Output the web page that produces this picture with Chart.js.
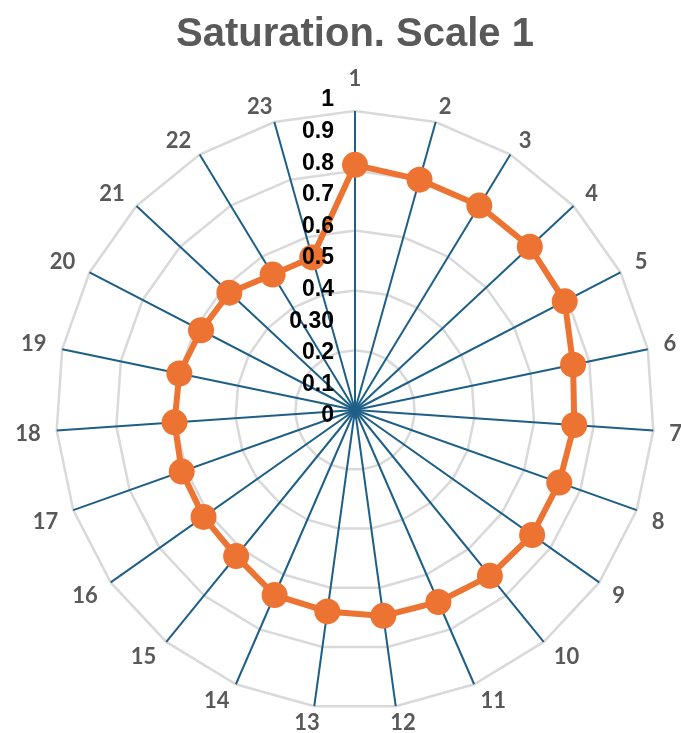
<!DOCTYPE html>
<html>
<head>
<meta charset="utf-8">
<script src="https://cdn.jsdelivr.net/npm/chart.js@4.4.1/dist/chart.umd.min.js"></script>
<style>
  html, body { margin: 0; padding: 0; background: #ffffff; overflow: hidden; }
  /* the lowest labels run off the bottom edge, so the canvas is taller than the window */
  #wrap { width: 681px; height: 755px; }
</style>
</head>
<body>
<div id="wrap"><canvas id="chart"></canvas></div>
<script>
// Categories around the radar (1..23)
const categories = ['1','2','3','4','5','6','7','8','9','10','11','12','13','14','15','16','17','18','19','20','21','22','23'];

// Saturation values for each category
const saturation = [0.82, 0.80, 0.80, 0.80, 0.79, 0.745, 0.735, 0.725, 0.725, 0.715, 0.70, 0.695,
                    0.68, 0.675, 0.63, 0.62, 0.615, 0.605, 0.60, 0.58, 0.575, 0.53, 0.53];

// Radial axis tick values and their printed labels
const tickValues = [0, 0.1, 0.2, 0.3, 0.4, 0.5, 0.6, 0.7, 0.8, 0.9, 1];
const tickLabels = ['0', '0.1', '0.2', '0.30', '0.4', '0.5', '0.6', '0.7', '0.8', '0.9', '1'];

// Category labels around the outer ring. Each label box is pushed off the end
// of its spoke: sideways by a horizontal gap, up/down by a vertical gap, and
// shifted by half its own size on the side facing away from the chart.
const categoryRing = {
  id: 'categoryRing',
  afterDraw(chart) {
    const r = chart.scales.r;
    const ctx = chart.ctx;
    const gapX = 16, gapY = 8, glyphH = 16;
    const side = (v) => Math.max(-1, Math.min(1, v * 3));
    ctx.save();
    ctx.font = 'bold 22px Lato, "Liberation Sans", sans-serif';
    ctx.fillStyle = '#595959';
    ctx.textAlign = 'center';
    ctx.textBaseline = 'middle';
    chart.data.labels.forEach((lab, i) => {
      const a = r.getIndexAngle(i);
      const dx = Math.sin(a), dy = -Math.cos(a);
      const w = ctx.measureText(lab).width;
      const vx = r.xCenter + dx * r.drawingArea;
      const vy = r.yCenter + dy * r.drawingArea;
      let cx = vx + dx * gapX + side(dx) * w / 2;
      let cy = vy + dy * gapY + side(dy) * glyphH / 2;
      // the label on the top spoke is lifted clear of the tick column's "1"
      if (i === 0) cy -= 17;
      ctx.fillText(lab, cx, cy + 1);
    });
    ctx.restore();
  }
};

// Radial tick labels in a column to the left of the vertical spoke
const tickColumn = {
  id: 'tickColumn',
  afterDraw(chart) {
    const r = chart.scales.r;
    const ctx = chart.ctx;
    ctx.save();
    ctx.font = 'bold 23px "Liberation Sans", Arial, sans-serif';
    ctx.fillStyle = '#000000';
    ctx.textAlign = 'right';
    ctx.textBaseline = 'middle';
    tickValues.forEach((v, i) => {
      const d = r.getDistanceFromCenterForValue(v) * 1.057;
      ctx.fillText(tickLabels[i], r.xCenter - 21, r.yCenter + 6 - d);
    });
    ctx.restore();
  }
};

new Chart(document.getElementById('chart'), {
  type: 'radar',
  data: {
    labels: categories,
    datasets: [{
      label: 'Saturation',
      data: saturation,
      borderColor: '#ec7331',
      backgroundColor: 'rgba(0,0,0,0)',
      borderWidth: 6,
      pointRadius: 13,
      pointHoverRadius: 13,
      pointBackgroundColor: '#ec7331',
      pointBorderColor: '#ec7331',
      pointBorderWidth: 0,
      fill: false,
      tension: 0
    }]
  },
  options: {
    responsive: true,
    maintainAspectRatio: false,
    animation: false,
    layout: { padding: { left: 56, right: 27, top: 0, bottom: 0 } },
    plugins: {
      legend: { display: false },
      tooltip: { enabled: false },
      title: {
        display: true,
        text: 'Saturation. Scale 1',
        color: '#595959',
        font: { family: '"Liberation Sans", Arial, sans-serif', size: 40, weight: 'bold' },
        padding: { top: 11, bottom: 6 }
      }
    },
    scales: {
      r: {
        min: 0,
        max: 1,
        beginAtZero: true,
        ticks: { display: false, stepSize: 0.1 },
        grid: {
          circular: false,
          lineWidth: 2.5,
          color: (c) => (Math.round(c.tick.value * 10) % 2 === 0 ? '#d9d9d9' : 'rgba(0,0,0,0)')
        },
        angleLines: { display: true, color: '#1d5f86', lineWidth: 2 },
        pointLabels: { display: false }
      }
    }
  },
  plugins: [categoryRing, tickColumn]
});
</script>
</body>
</html>
